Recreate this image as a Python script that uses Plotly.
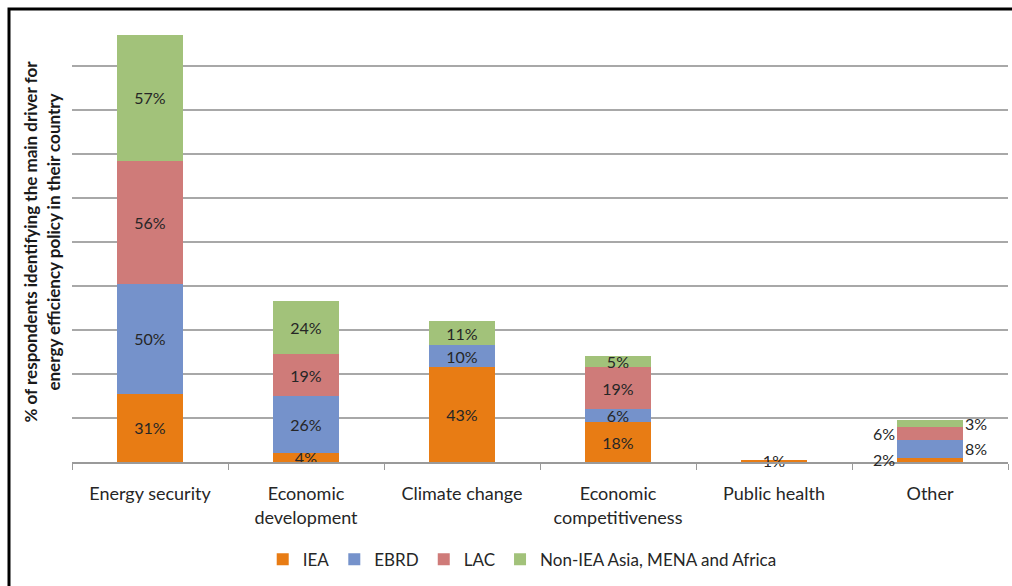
import plotly.graph_objects as go

categories = ["Energy security", "Economic<br>development", "Climate change",
              "Economic<br>competitiveness", "Public health", "Other"]
series_names = ["IEA", "EBRD", "LAC", "Non-IEA Asia, MENA and Africa"]
iea = [31, 4, 43, 18, 1, 2]
ebrd = [50, 26, 10, 6, 0, 8]
lac = [56, 19, 0, 19, 0, 6]
non_iea = [57, 24, 11, 5, 0, 3]
colors = ["#E87C14", "#7592CB", "#CF7B79", "#A2C27A"]

# categories whose labels are placed outside the bar (alternating left/right)
outside_cat = "Other"

series_values = [iea, ebrd, lac, non_iea]

FONT = "Lato"
fig = go.Figure()
for name, vals, col in zip(series_names, series_values, colors):
    texts = []
    for c, v in zip(categories, vals):
        if v == 0 or c == outside_cat:
            texts.append("")
        else:
            texts.append(f"{v}%")
    fig.add_trace(go.Bar(
        x=categories, y=vals, name=name, marker=dict(color=col, line=dict(width=0)),
        text=texts, textposition="inside", insidetextanchor="middle",
        textfont=dict(family=FONT, size=16, color="#262626"),
        cliponaxis=False,
    ))

# outside labels for "Other"
oi = categories.index(outside_cat)
cum = 0
for k, vals in enumerate(series_values):
    v = vals[oi]
    mid = cum + v / 2
    cum += v
    left = (k % 2 == 0)
    fig.add_annotation(
        x=outside_cat, y=mid, xref="x", yref="y", text=f"{v}%", showarrow=False,
        xanchor="right" if left else "left", xshift=-33 if left else 33,
        font=dict(family=FONT, size=16, color="#262626"),
    )

fig.update_layout(
    barmode="stack",
    bargap=0.58,
    width=1012, height=586,
    margin=dict(l=72, r=4, t=22, b=124),
    paper_bgcolor="white", plot_bgcolor="white",
    font=dict(family=FONT, size=18, color="#262626"),
    uniformtext=dict(minsize=16, mode="show"),
    legend=dict(orientation="h", x=0.481, xanchor="center", y=-0.222, yanchor="middle",
                font=dict(family=FONT, size=17, color="#262626"),
                itemwidth=30, traceorder="normal"),
    showlegend=True,
)
fig.update_xaxes(
    type="category", tickson="boundaries", ticks="outside", ticklen=6, tickcolor="#9A9A9A",
    showline=True, linecolor="#9A9A9A", linewidth=1.5, showgrid=False,
    tickfont=dict(family=FONT, size=18, color="#262626"), ticklabelstandoff=15,
    range=[-0.5, 5.5],
)
fig.update_yaxes(
    range=[0, 200], dtick=20, showticklabels=False, showgrid=True,
    gridcolor="#A8A8A8", gridwidth=1.5, zeroline=False,
    title=dict(text="% of respondents identifying the main driver for<br>energy efficiency policy in their country",
               font=dict(family=FONT, size=17, color="#1a1a1a", weight="bold"), standoff=6),
    automargin=False,
)
# outer frame of the picture
fig.add_shape(type="rect", xref="paper", yref="paper",
              x0=(9 - 72) / 936, x1=1.2, y0=-0.5, y1=(462 - 9) / 440,
              line=dict(color="black", width=3), fillcolor="rgba(0,0,0,0)", layer="above")

fig.write_html("out.html")
